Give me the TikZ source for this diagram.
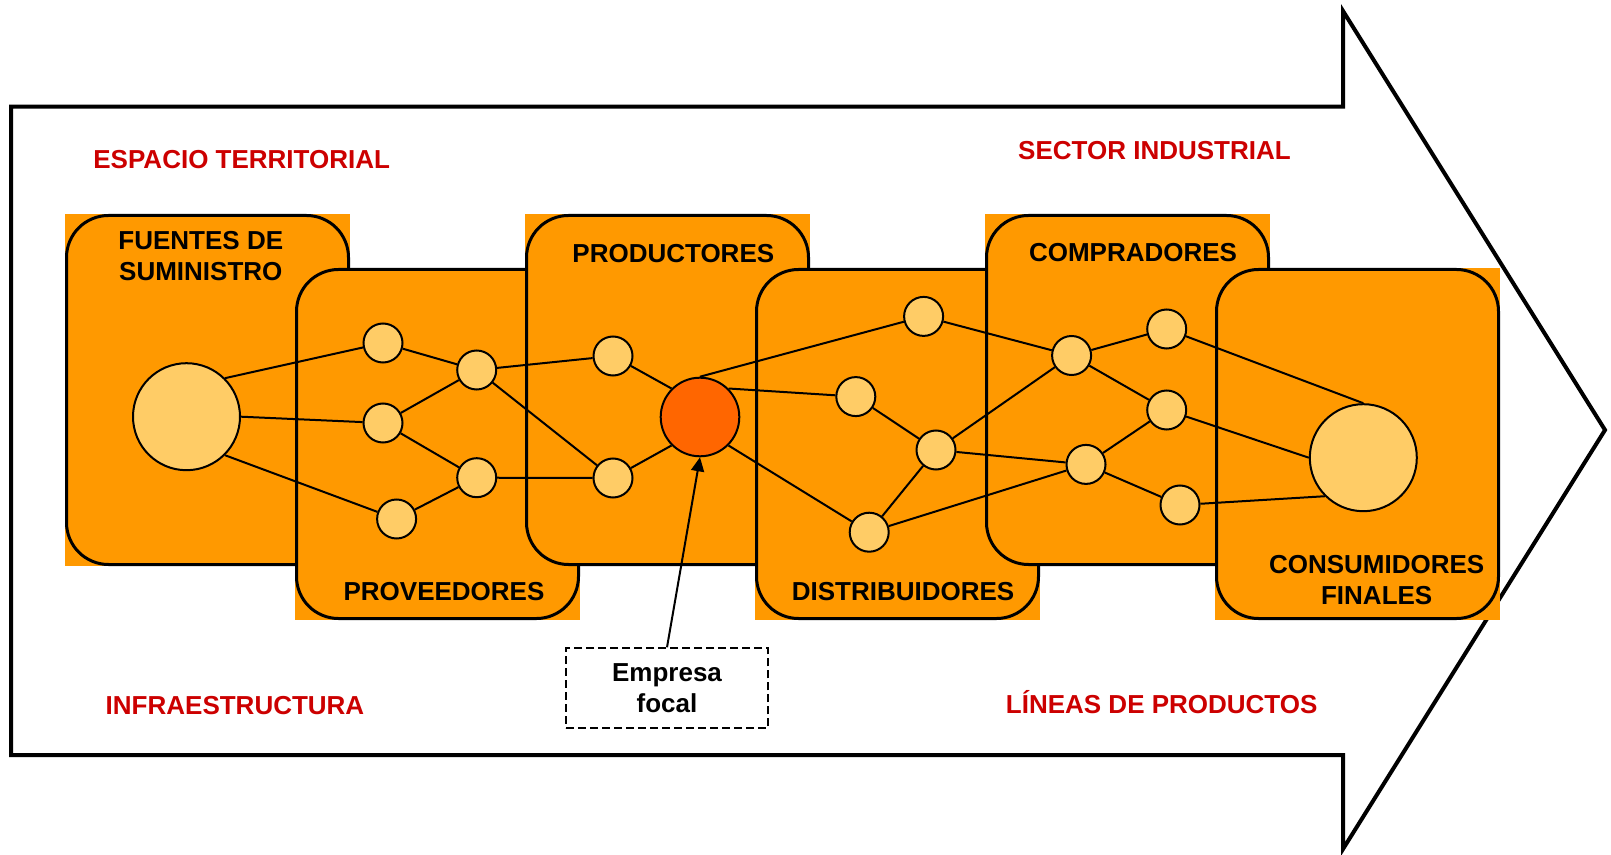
\documentclass[tikz,border=0pt]{standalone}
\usepackage{fontspec}
\setmainfont{Liberation Sans}
\usetikzlibrary{arrows.meta}

\definecolor{boxorange}{HTML}{FF9900}
\definecolor{actoryellow}{HTML}{FFCC66}
\definecolor{focalorange}{HTML}{FF6600}
\definecolor{areared}{HTML}{CC0000}

\begin{document}
\begin{tikzpicture}[x=0.5pt,y=-0.5pt]
        \tikzstyle{every node}=[font=\fontsize{13}{15.5}\selectfont\bfseries, align=center, inner sep=0pt, text=black]
        \tikzstyle{stagefill}=[fill=boxorange]
        \tikzstyle{stageborder}=[draw=black, line width=1.5pt, rounded corners=21pt]
        \tikzstyle{actor}=[circle, fill=actoryellow, draw=black, line width=1pt, minimum size=19.5pt]
        \tikzstyle{bigactor}=[actor, minimum size=53.5pt]
        \tikzstyle{focalactor}=[actor, fill=focalorange, minimum size=39.3pt]
        \tikzstyle{edge}=[black, line width=1pt]
        \tikzstyle{area}=[text=areared, anchor=base]
        \tikzstyle{stagename}=[anchor=base]

        \useasboundingbox (0,0) rectangle (1611,855);

        % big arrow
        \draw[line width=2pt] (11,106.7) -- (1343,106.7) -- (1343,11) -- (1605,430)
            -- (1343,849) -- (1343,755) -- (11,755) -- cycle;

        % stages
        \foreach \x/\y in {65/214, 295/268, 525/214, 755/268, 985/214, 1215/268} {
            \fill[stagefill] (\x,\y) rectangle ++(285,352);
            \draw[stageborder] (\x+1.5,\y+1.5) rectangle ++(282,349);
        }

        \node[stagename] (fuentes) at (200.8,281) {FUENTES DE\\SUMINISTRO};
        \node[stagename] (proveedores) at (444,600) {PROVEEDORES};
        \node[stagename] (productores) at (673.3,262.7) {PRODUCTORES};
        \node[stagename] (distribuidores) at (903,600) {DISTRIBUIDORES};
        \node[stagename] (compradores) at (1133,261.7) {COMPRADORES};
        \node[stagename] (consumidores) at (1376.7,604) {CONSUMIDORES\\FINALES};

        \node[area] (espacio) at (241.7,168.3) {ESPACIO TERRITORIAL};
        \node[area] (sector) at (1154.5,160) {SECTOR INDUSTRIAL};
        \node[area] (infra) at (235,714) {INFRAESTRUCTURA};
        \node[area] (lineas) at (1161.7,713.3) {LÍNEAS DE PRODUCTOS};

        % actors
        \node[bigactor] (fuente) at (186.5,416.7) {};
        \node[actor] (prov1) at (383,343) {};
        \node[actor] (prov2) at (383,423) {};
        \node[actor] (prov3) at (396.6,519) {};
        \node[actor] (prov4) at (476.7,370) {};
        \node[actor] (prov5) at (476.7,477.7) {};
        \node[actor] (prod1) at (613,356) {};
        \node[actor] (prod2) at (613,478) {};
        \node[focalactor] (focal) at (700,417) {};
        \node[actor] (dist1) at (923.6,316.4) {};
        \node[actor] (dist2) at (855.8,396.6) {};
        \node[actor] (dist3) at (936,450) {};
        \node[actor] (dist4) at (869.2,532.2) {};
        \node[actor] (comp1) at (1071.6,355.5) {};
        \node[actor] (comp2) at (1166.7,329) {};
        \node[actor] (comp3) at (1166.7,410) {};
        \node[actor] (comp4) at (1086,464.4) {};
        \node[actor] (comp5) at (1180,505) {};
        \node[bigactor] (consumidor) at (1363.3,457.7) {};

        \draw[edge] (fuente.north east) -- (prov1);
        \draw[edge] (fuente.east) -- (prov2);
        \draw[edge] (fuente.south east) -- (prov3);
        \draw[edge] (prov1) -- (prov4) -- (prod1);
        \draw[edge] (prov2) -- (prov4) -- (prod2);
        \draw[edge] (prov2) -- (prov5) -- (prod2);
        \draw[edge] (prov3) -- (prov5);
        \draw[edge] (prod1) -- (focal.north west);
        \draw[edge] (prod2) -- (focal.south west);
        \draw[edge] (focal.north) -- (dist1) -- (comp1);
        \draw[edge] (focal.north east) -- (dist2) -- (dist3) -- (dist4);
        \draw[edge] (focal.south east) -- (dist4) -- (comp4);
        \draw[edge] (dist3) -- (comp1) -- (comp2);
        \draw[edge] (dist3) -- (comp4) -- (comp3);
        \draw[edge] (comp1) -- (comp3);
        \draw[edge] (comp4) -- (comp5);
        \draw[edge] (comp2) -- (consumidor.north);
        \draw[edge] (comp3) -- (consumidor.west);
        \draw[edge] (comp5) -- (consumidor.south west);

        % focal firm callout
        \node[draw=black, dashed, dash pattern=on 4pt off 2pt, line width=1pt, minimum width=101pt, minimum height=40pt] (empresa) at (667,688.3) {Empresa\\focal};
        \draw[-{Triangle[length=7pt,width=6.5pt]}, line width=1pt] (empresa.north) -- (focal.south);
    \end{tikzpicture}
\end{document}
